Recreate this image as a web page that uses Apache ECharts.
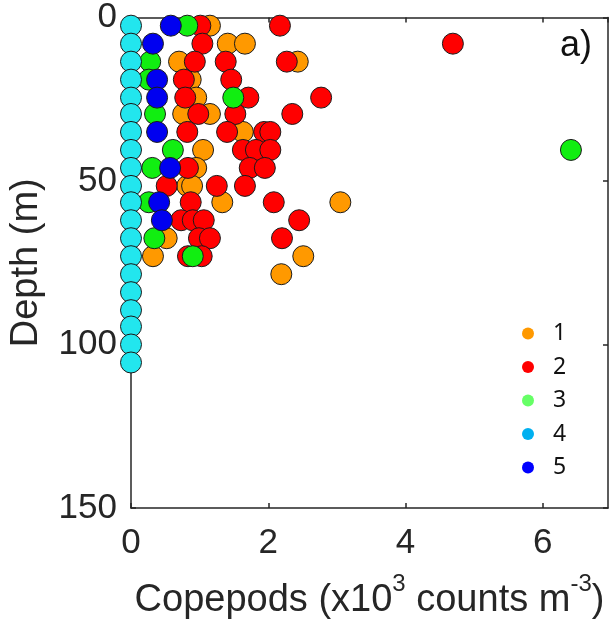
<!DOCTYPE html>
<html>
<head>
<meta charset="utf-8">
<script src="https://cdn.jsdelivr.net/npm/echarts@6/dist/echarts.min.js"></script>
<style>
  html, body { margin: 0; padding: 0; background: #fff; }
  #chart { width: 611px; height: 625px; }
</style>
</head>
<body>
<div id="chart"></div>
<script>
// [copepods (x10^3 counts m^-3), depth (m)] per group
const group1 = [
  [1.15, 2.5], [1.41, 8], [1.66, 8], [0.70, 13.5], [2.43, 13.5], [0.87, 19],
  [0.95, 24.5], [0.76, 29.5], [1.15, 29.5], [1.63, 35], [1.05, 40.5], [0.95, 46],
  [0.82, 51.5], [0.89, 51.5], [1.33, 56.5], [3.05, 56.5], [0.52, 67.5],
  [0.32, 73], [2.51, 73], [2.19, 78.5]
]
const group2 = [
  [1.01, 2.5], [2.17, 2.5], [1.04, 8], [4.69, 8], [0.93, 13.5], [1.38, 13.5],
  [2.27, 13.5], [0.77, 19], [1.46, 19], [0.79, 24.5], [1.71, 24.5], [2.77, 24.5],
  [0.98, 29.5], [1.52, 29.5], [2.35, 29.5], [0.82, 35], [1.40, 35], [1.94, 35],
  [2.03, 35], [1.63, 40.5], [1.82, 40.5], [2.03, 40.5], [0.83, 46], [1.73, 46],
  [1.95, 46], [0.52, 51.5], [1.25, 51.5], [1.66, 51.5], [0.87, 56.5], [2.08, 56.5],
  [0.73, 62], [0.90, 62], [1.06, 62], [2.45, 62], [0.99, 67.5], [1.15, 67.5],
  [2.20, 67.5], [0.83, 73], [1.03, 73]
]
const group3 = [
  [0.82, 2.5], [0.28, 13.5], [0.26, 19], [1.49, 24.5], [0.35, 29.5], [0.61, 40.5],
  [6.41, 40.5], [0.31, 46], [0.26, 56.5], [0.34, 67.5], [0.90, 73]
]
const group4 = [
  [0, 2.5], [0, 8], [0, 13.5], [0, 19], [0, 24.5], [0, 29.5], [0, 35], [0, 40.5],
  [0, 46], [0, 51.5], [0, 56.5], [0, 62], [0, 67.5], [0, 73], [0, 78.5], [0, 84],
  [0, 89.5], [0, 94.5], [0, 100], [0, 105.5]
]
const group5 = [
  [0.58, 2.5], [0.32, 8], [0.38, 19], [0.38, 24.5], [0.38, 35], [0.57, 46],
  [0.41, 56.5], [0.45, 62]
]

const groupNames = ['1', '2', '3', '4', '5']
const markerColors = ['#FF9900', '#FF0000', '#11EE11', '#22E6EE', '#0000F0']
const legendColors = ['#FF9900', '#FF0000', '#66FF66', '#00B0F0', '#0000FF']
const groups = [group1, group2, group3, group4, group5]

const textColor = '#262626'
const font = 'Liberation Sans'

const myChart = echarts.init(document.getElementById('chart'))

const lineStyle = { color: textColor, width: 1.5 }
const axisBase = {
  type: 'value',
  axisLine: { show: true, onZero: false, lineStyle },
  axisTick: { show: true, inside: true, length: 5, lineStyle },
  splitLine: { show: false }
}

const option = {
  animation: false,
  title: {
    text: 'a)',
    right: 14,
    top: 23,
    textStyle: { fontFamily: font, fontSize: 36, fontWeight: 'normal', color: '#111' }
  },
  grid: { left: 131, right: 3, top: 17, bottom: 116 },
  legend: {
    orient: 'vertical',
    left: 517,
    top: 317,
    itemWidth: 40,
    itemHeight: 12,
    itemGap: 10.5,
    icon: 'circle',
    selectedMode: false,
    itemStyle: { borderWidth: 0 },
    textStyle: { fontFamily: 'Noto Sans', fontSize: 23, color: '#111' },
    data: groupNames.map((n, i) => ({ name: n, itemStyle: { color: legendColors[i], borderWidth: 0 } }))
  },
  xAxis: [
    {
      ...axisBase,
      min: 0,
      max: 6.95,
      interval: 2,
      name: '{n|Copepods (x10}{s|3}{n| counts m}{s|-3}{n|)}',
      nameLocation: 'middle',
      nameGap: 64,
      nameTextStyle: {
        rich: {
          n: { fontFamily: font, fontSize: 38, color: textColor, verticalAlign: 'top', padding: [10, 0, 0, 0] },
          s: { fontFamily: font, fontSize: 24, color: textColor, verticalAlign: 'top' }
        }
      },
      axisLabel: {
        fontFamily: font, fontSize: 35, color: textColor, margin: 18,
        showMaxLabel: false
      }
    },
    {
      ...axisBase,
      position: 'top',
      min: 0,
      max: 6.95,
      interval: 2,
      axisLabel: { show: false }
    }
  ],
  yAxis: [
    {
      ...axisBase,
      min: 0,
      max: 150,
      interval: 50,
      inverse: true,
      name: 'Depth (m)',
      nameLocation: 'middle',
      nameGap: 85,
      nameTextStyle: { fontFamily: font, fontSize: 38, color: textColor },
      axisLabel: { fontFamily: font, fontSize: 35, color: textColor, margin: 14 }
    },
    {
      ...axisBase,
      position: 'right',
      min: 0,
      max: 150,
      interval: 50,
      inverse: true,
      axisLabel: { show: false }
    }
  ],
  series: groups.map((g, i) => ({
    name: groupNames[i],
    type: 'scatter',
    data: g,
    symbolSize: 21,
    clip: false,
    itemStyle: { color: markerColors[i], borderColor: '#1a1a1a', borderWidth: 1, opacity: 1 },
    emphasis: { disabled: true }
  }))
}

myChart.setOption(option)
</script>
</body>
</html>
